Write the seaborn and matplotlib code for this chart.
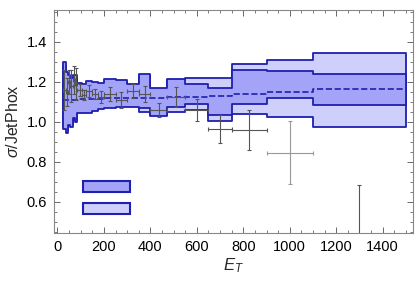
import matplotlib
matplotlib.use("Agg")
import matplotlib.pyplot as plt
import seaborn as sns
import numpy as np
from matplotlib.patches import Patch
from matplotlib.ticker import MultipleLocator

# bin edges in E_T
edges = [25, 35, 45, 55, 65, 75, 85, 105, 125, 150, 175, 200, 250, 300,
         350, 400, 470, 550, 650, 750, 900, 1100, 1500]

# darker band (per bin)
dark_hi = [1.30, 1.25, 1.235, 1.22, 1.235, 1.235, 1.193, 1.19, 1.205, 1.20, 1.195,
           1.215, 1.21, 1.19, 1.24, 1.17, 1.215, 1.19, 1.168, 1.26, 1.255, 1.238]
dark_lo = [0.965, 0.943, 0.985, 0.975, 1.02, 1.00, 1.045, 1.045, 1.045, 1.055, 1.065,
           1.07, 1.075, 1.075, 1.07, 1.03, 1.075, 1.09, 1.035, 1.088, 1.122, 1.083]

# lighter band (per bin)
light_hi = [1.28, 1.23, 1.22, 1.20, 1.22, 1.22, 1.18, 1.18, 1.19, 1.19, 1.185,
            1.20, 1.20, 1.18, 1.235, 1.165, 1.21, 1.218, 1.218, 1.29, 1.31, 1.347]
light_lo = [0.98, 0.96, 1.00, 0.99, 1.03, 1.01, 1.05, 1.05, 1.05, 1.06, 1.07,
            1.075, 1.08, 1.08, 1.05, 1.035, 1.05, 1.06, 1.005, 1.042, 1.027, 0.977]

# central prediction
central = [1.11, 1.11, 1.11, 1.11, 1.11, 1.11, 1.113, 1.115, 1.115, 1.115, 1.117,
           1.118, 1.12, 1.12, 1.12, 1.122, 1.125, 1.127, 1.132, 1.142, 1.148, 1.165]

# data points
pt_x = [30, 40, 50, 60, 70, 80, 95, 115, 137.5, 162.5, 187.5, 225, 275, 325, 375,
        435, 510, 600, 700, 825, 1000, 1300]
pt_y = [1.16, 1.15, 1.20, 1.18, 1.21, 1.19, 1.16, 1.135, 1.155, 1.14, 1.125, 1.14,
        1.11, 1.155, 1.14, 1.058, 1.127, 1.058, 0.965, 0.96, 0.847, 0.30]
pt_yerr = [0.10, 0.07, 0.06, 0.08, 0.07, 0.08, 0.03, 0.025, 0.03, 0.025, 0.03, 0.035,
           0.04, 0.035, 0.04, 0.035, 0.05, 0.055, 0.07, 0.10, 0.16, 0.385]

sns.set_theme(style="ticks")
plt.rcParams['font.family'] = ['Liberation Sans', 'DejaVu Sans']
plt.rcParams['mathtext.fontset'] = 'custom'
plt.rcParams['mathtext.it'] = 'Liberation Sans:italic'
plt.rcParams['mathtext.rm'] = 'Liberation Sans'

dark_fill = "#a3a3f7"
light_fill = "#cfcffb"
edge_col = "#1f1fb0"

fig = plt.figure(figsize=(4.15, 2.84), dpi=100)
ax = fig.add_axes([0.130, 0.180, 0.865, 0.785])

ext = lambda v: list(v) + [v[-1]]

ax.fill_between(edges, ext(light_lo), ext(light_hi), step="post",
                facecolor=light_fill, edgecolor=edge_col, linewidth=1.3, zorder=1)
ax.fill_between(edges, ext(dark_lo), ext(dark_hi), step="post",
                facecolor=dark_fill, edgecolor=edge_col, linewidth=1.3, zorder=2)

sns.lineplot(x=edges, y=ext(central), ax=ax, color=edge_col, linestyle="--",
             linewidth=1.2, drawstyle="steps-post", sort=False, estimator=None,
             zorder=3)

# error bars; widest bin drawn lighter
xerr = [(edges[i + 1] - edges[i]) / 2 for i in range(len(edges) - 1)]
colors = ["#555555"] * len(pt_x)
colors[20] = "#999999"
for i in range(len(pt_x)):
    ax.errorbar(pt_x[i], pt_y[i], xerr=xerr[i], yerr=pt_yerr[i], fmt="none",
                ecolor=colors[i], elinewidth=0.8, capsize=1.3, capthick=0.8, zorder=4)

ax.legend(handles=[Patch(facecolor=dark_fill, edgecolor=edge_col, linewidth=1.5),
                   Patch(facecolor=light_fill, edgecolor=edge_col, linewidth=1.5)],
          labels=["", ""], loc=(0.066, 0.05), frameon=False, handlelength=3.4,
          handleheight=0.85, labelspacing=0.55, fontsize=10)

ax.set_xlim(-15, 1530)
ax.set_ylim(0.445, 1.56)
ax.set_xticks(np.arange(0, 1401, 200))
ax.set_yticks([0.6, 0.8, 1.0, 1.2, 1.4])
ax.xaxis.set_minor_locator(MultipleLocator(50))
ax.yaxis.set_minor_locator(MultipleLocator(0.05))
ax.tick_params(which="both", direction="in", top=True, right=True, color="#666666",
               labelsize=10.5, labelcolor="black", pad=5)
ax.tick_params(which="major", length=4, width=0.7)
ax.tick_params(which="minor", length=2, width=0.6)
for s in ax.spines.values():
    s.set_color("#888888")
    s.set_linewidth(0.8)

ax.set_xlabel(r"$E_T$", fontsize=12, labelpad=2)
ax.set_ylabel(r"$\sigma$/JetPhox", fontsize=11.5, labelpad=4)

fig.savefig("out.png", dpi=100)
